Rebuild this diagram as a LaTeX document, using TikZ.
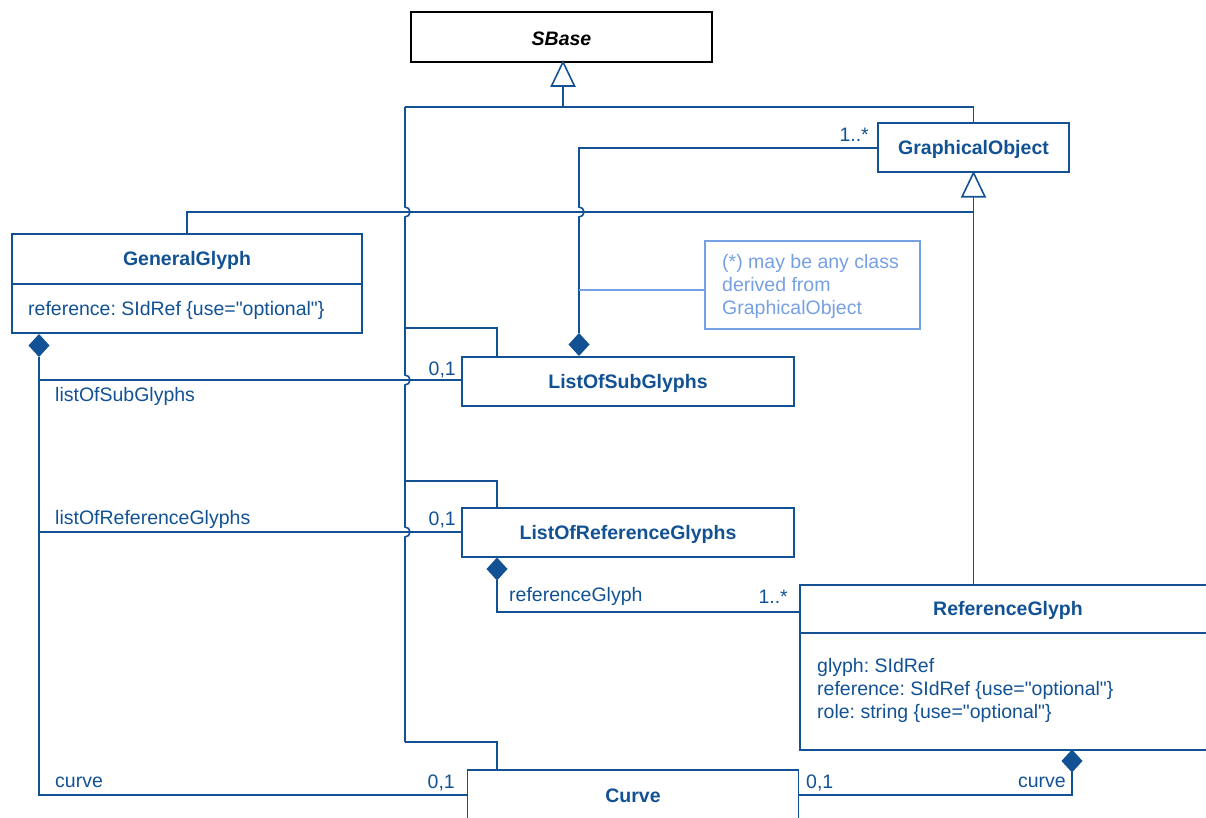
\documentclass[tikz,border=0pt]{standalone}
\usepackage{fontspec}
\setmainfont{Liberation Sans}[Ligatures=TeXOff]
\frenchspacing
\definecolor{umlblue}{RGB}{18,82,148}
\definecolor{noteblue}{RGB}{118,160,228}
\begin{document}
\begin{tikzpicture}[x=1pt,y=-1pt,
  every node/.style={font=\fontsize{19.5}{23}\selectfont, text=umlblue, inner sep=0pt},
  cls/.style={draw=umlblue, line width=1.6pt, fill=white, rectangle},
  txt/.style={yshift=-1.5pt},
  clsname/.style={txt, font=\fontsize{19.5}{23}\selectfont\bfseries},
  conn/.style={draw=umlblue, line width=1.6pt},
  diam/.pic={\fill[umlblue] (0,-11.5) -- (10.5,0) -- (0,11.5) -- (-10.5,0) -- cycle;},
  gen/.pic={\draw[umlblue, line width=1.6pt, fill=white] (0,0) -- (11.5,24) -- (-11.5,24) -- cycle;}
]
\useasboundingbox (0,0) rectangle (1206,818);

% ---------- class boxes ----------
\node[cls, draw=black, minimum width=301pt, minimum height=50pt] (sbase) at (561.5,37) {};
\node[txt, text=black, font=\fontsize{19.5}{23}\selectfont\bfseries\itshape] (sbasen) at (561.5,37) {SBase};

\node[cls, minimum width=191pt, minimum height=49pt] (gobj) at (973.5,147.5) {};
\node[clsname] (gobjn) at (973.5,147.5) {GraphicalObject};

\node[cls, minimum width=350pt, minimum height=99pt] (gg) at (187,283.5) {};
\node[clsname] (ggn) at (187,259) {GeneralGlyph};
\draw[conn] (gg.west |- 0,284) -- (gg.east |- 0,284);
\node[txt, anchor=west] (ggattr) at (28,309) {reference: SIdRef \{use="optional"\}};

\node[cls, minimum width=332pt, minimum height=49pt] (losg) at (628,381.5) {};
\node[clsname] (losgn) at (628,381.5) {ListOfSubGlyphs};

\node[cls, minimum width=332pt, minimum height=49pt] (lorg) at (628,532.5) {};
\node[clsname] (lorgn) at (628,532.5) {ListOfReferenceGlyphs};

\node[cls, minimum width=430pt, minimum height=165pt] (rg) at (1015,667.5) {};
\node[clsname] (rgn) at (1008,609) {ReferenceGlyph};
\draw[conn] (rg.west |- 0,633) -- (rg.east |- 0,633);
\node[txt, anchor=west] (rga1) at (817,666) {glyph: SIdRef};
\node[txt, anchor=west] (rga2) at (817,689) {reference: SIdRef \{use="optional"\}};
\node[txt, anchor=west] (rga3) at (817,712) {role: string \{use="optional"\}};

\node[cls, minimum width=331pt, minimum height=70pt] (curve) at (633,805) {};
\node[clsname] (curven) at (633,794.5) {Curve};

% ---------- note ----------
\node[draw=noteblue, line width=1.4pt, minimum width=215pt, minimum height=88pt] (note) at (812.5,285) {};
\node[txt, anchor=west, text=noteblue, align=left] (notet) at (722,285)
  {(*) may be any class\\derived from\\GraphicalObject};

% ---------- coordinates ----------
\coordinate (trunkTop) at (405,107);
\coordinate (trunkBot) at (405,742);
\coordinate (goX) at (973.5,107);
\coordinate (ggTop) at (187,212);
\coordinate (goLine) at (973.5,212);
\coordinate (ggD) at (39,357);

% ---------- generalization to SBase ----------
\pic at (563,62) {gen};
\draw[conn] (563,86) -- (563,107);
\draw[conn] (trunkTop) -- (goX) -- (gobj.north -| goX);
% trunk with jumps at 212, 380, 532
\draw[conn] (trunkTop) -- (405,207) arc[start angle=90, end angle=-90, radius=5pt]
  -- (405,375) arc[start angle=90, end angle=-90, radius=5pt]
  -- (405,527) arc[start angle=90, end angle=-90, radius=5pt]
  -- (trunkBot);
\draw[conn] (405,328) -- (497,328) -- (losg.north -| 497,0);
\draw[conn] (405,481) -- (497,481) -- (lorg.north -| 497,0);
\draw[conn] (trunkBot) -- (497,742) -- (curve.north -| 497,0);

% ---------- generalization to GraphicalObject ----------
\pic at (gobj.south) {gen};
\draw[conn] (973.5,196) -- (rg.north -| 973.5,0);
\draw[conn] (goLine) -- (ggTop) -- (gg.north -| ggTop);

% ---------- ListOfSubGlyphs composition of GraphicalObject ----------
\pic at (579,344.5) {diam};
\draw[conn] (579,333) -- (579,217) arc[start angle=-90, end angle=90, radius=5pt] -- (579,148) -- (gobj.west |- 0,148);
\node[txt, anchor=east] (m1) at (869,133) {1..*};
\draw[noteblue, line width=1.4pt] (579,290) -- (note.west |- 0,290);

% ---------- GeneralGlyph compositions ----------
\pic at (39,345.5) {diam};
\draw[conn] (ggD) -- (39,795) -- (curve.west |- 0,795);
\draw[conn] (39,380) -- (losg.west |- 0,380);
\draw[conn] (39,532) -- (lorg.west |- 0,532);
\node[txt, anchor=west] (l1) at (55,395) {listOfSubGlyphs};
\node[txt, anchor=west] (l2) at (55,518) {listOfReferenceGlyphs};
\node[txt, anchor=west] (l3) at (55,781) {curve};
\node[txt, anchor=east] (m2) at (456,368) {0,1};
\node[txt, anchor=east] (m3) at (456,518) {0,1};
\node[txt, anchor=east] (m4) at (455,781) {0,1};

% ---------- referenceGlyph ----------
\pic at (497,569) {diam};
\draw[conn] (497,580) -- (497,612) -- (rg.west |- 0,612);
\node[txt, anchor=west] (l4) at (509,595) {referenceGlyph};
\node[txt, anchor=east] (m5) at (788,595) {1..*};

% ---------- ReferenceGlyph curve ----------
\pic at (1072,761) {diam};
\draw[conn] (1072,772) -- (1072,795) -- (curve.east |- 0,795);
\node[txt, anchor=west] (m6) at (806,781) {0,1};
\node[txt, anchor=east] (l5) at (1066,781) {curve};
\end{tikzpicture}
\end{document}
